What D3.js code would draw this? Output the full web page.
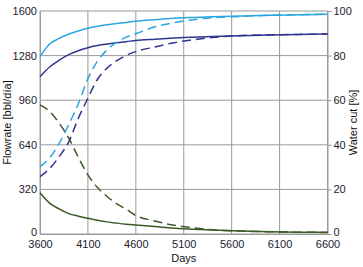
<!DOCTYPE html>
<html>
<head>
<meta charset="utf-8">
<script src="https://cdn.jsdelivr.net/npm/d3@7"></script>
<style>
  body { margin: 0; background: #fff; }
  svg { display: block; font-family: "Liberation Sans", Arial, sans-serif; }
</style>
</head>
<body>
<svg id="chart" width="363" height="267"></svg>
<script>
// days sampled along the curves
var days = [3600,3700,3800,3900,4000,4100,4200,4300,4400,4500,4600,4800,5000,5200,5400,5700,6000,6300,6600];

// flowrate (bbl/dia), solid lines
var rateLight = [1272,1363,1403,1435,1457,1476,1490,1501,1510,1518,1526,1538,1548,1554,1559,1565,1570,1573,1577];
var rateDark  = [1129,1198,1247,1287,1315,1337,1352,1363,1372,1380,1389,1398,1406,1412,1417,1423,1427,1431,1435];
var rateGreen = [296,222,180,146,128,113,99,87,78,70,64,53,42,34,28,22,16,13,12];

// water cut (%), dashed lines
var wcLight = [30.2,34.1,40.6,49.1,58.4,69.7,77.5,82.6,85.9,88.3,89.8,92.9,94.8,96.1,97.0,97.6,98.1,98.3,98.6];
var wcDark  = [25.7,29.3,34.7,41.3,51.9,60.9,69.4,74.4,77.7,80.1,81.8,83.9,85.8,87.1,88.1,89.0,89.3,89.5,89.7];
var wcGreen = [57.9,55.0,49.7,43.0,34.4,26.5,20.8,16.8,13.6,11.1,8.3,5.8,3.9,2.8,1.9,1.3,1.0,0.8,0.7];

var xTicks = [3600,4100,4600,5100,5600,6100,6600];
var yTicks = [0,320,640,960,1280,1600];
var y2Ticks = [0,20,40,60,80,100];

var light = "#2aa7e0", dark = "#2f3590", green = "#3b5a27";

var margin = {top: 11, right: 35.5, bottom: 33, left: 40},
    width = 363 - margin.left - margin.right,
    height = 267 - margin.top - margin.bottom;

var svg = d3.select("#chart");
var g = svg.append("g").attr("transform", `translate(${margin.left},${margin.top})`);

var x = d3.scaleLinear().domain([3600, 6600]).range([0, width]);
var y = d3.scaleLinear().domain([0, 1600]).range([height, 0]);
var y2 = d3.scaleLinear().domain([0, 100]).range([height, 0]);

// grid
g.append("g")
  .selectAll("line")
  .data(xTicks)
  .join("line")
    .attr("x1", d => x(d)).attr("x2", d => x(d))
    .attr("y1", 0).attr("y2", height)
    .attr("stroke", "#9a9a9a");
g.append("g")
  .selectAll("line")
  .data(yTicks)
  .join("line")
    .attr("x1", 0).attr("x2", width)
    .attr("y1", d => y(d)).attr("y2", d => y(d))
    .attr("stroke", "#9a9a9a");

// axes
var xAxis = g.append("g")
    .attr("transform", `translate(0,${height})`)
    .call(d3.axisBottom(x).tickValues(xTicks).tickSize(0).tickPadding(6).tickFormat(d3.format("d")));
var yAxis = g.append("g")
    .call(d3.axisLeft(y).tickValues(yTicks).tickSize(0).tickPadding(3).tickFormat(d3.format("d")));
var y2Axis = g.append("g")
    .attr("transform", `translate(${width},0)`)
    .call(d3.axisRight(y2).tickValues(y2Ticks).tickSize(4).tickPadding(2));

[xAxis, yAxis, y2Axis].forEach(a => {
  a.selectAll(".domain").attr("stroke", "#9a9a9a");
  a.selectAll(".tick line").attr("stroke", "#9a9a9a");
  a.selectAll("text").attr("fill", "#1c1c2c").attr("font-size", 11)
    .attr("font-family", "'Liberation Sans', Arial, sans-serif");
});
// keep the bottom "0" labels clear of the day labels
yAxis.selectAll(".tick text").filter(d => d === 0).attr("dy", "0.1em");
y2Axis.selectAll(".tick text").filter(d => d === 0).attr("dy", "0.1em");

// lines
var line = (vals, sc) => d3.line()
    .x((d, i) => x(days[i]))
    .y(d => sc(d))
    .curve(d3.curveMonotoneX)(vals);

var series = [
  {v: wcGreen, s: y2, c: green, dash: true},
  {v: rateGreen, s: y, c: green, dash: false},
  {v: wcDark, s: y2, c: dark, dash: true},
  {v: rateDark, s: y, c: dark, dash: false},
  {v: wcLight, s: y2, c: light, dash: true},
  {v: rateLight, s: y, c: light, dash: false}
];

g.append("g")
  .selectAll("path")
  .data(series)
  .join("path")
    .attr("fill", "none")
    .attr("stroke", d => d.c)
    .attr("stroke-width", 1.5)
    .attr("stroke-dasharray", d => d.dash ? "9,5" : null)
    .attr("d", d => line(d.v, d.s));

// titles
svg.append("text")
    .attr("transform", `translate(11,${margin.top + height / 2}) rotate(-90)`)
    .attr("text-anchor", "middle")
    .attr("font-size", 11)
    .attr("fill", "#111")
    .text("Flowrate [bbl/día]");

svg.append("text")
    .attr("transform", `translate(357,${margin.top + height / 2}) rotate(-90)`)
    .attr("text-anchor", "middle")
    .attr("font-size", 11)
    .attr("fill", "#111")
    .text("Water cut [%]");

svg.append("text")
    .attr("x", margin.left + width / 2)
    .attr("y", 262)
    .attr("text-anchor", "middle")
    .attr("font-size", 11)
    .attr("fill", "#111")
    .text("Days");
</script>
</body>
</html>
